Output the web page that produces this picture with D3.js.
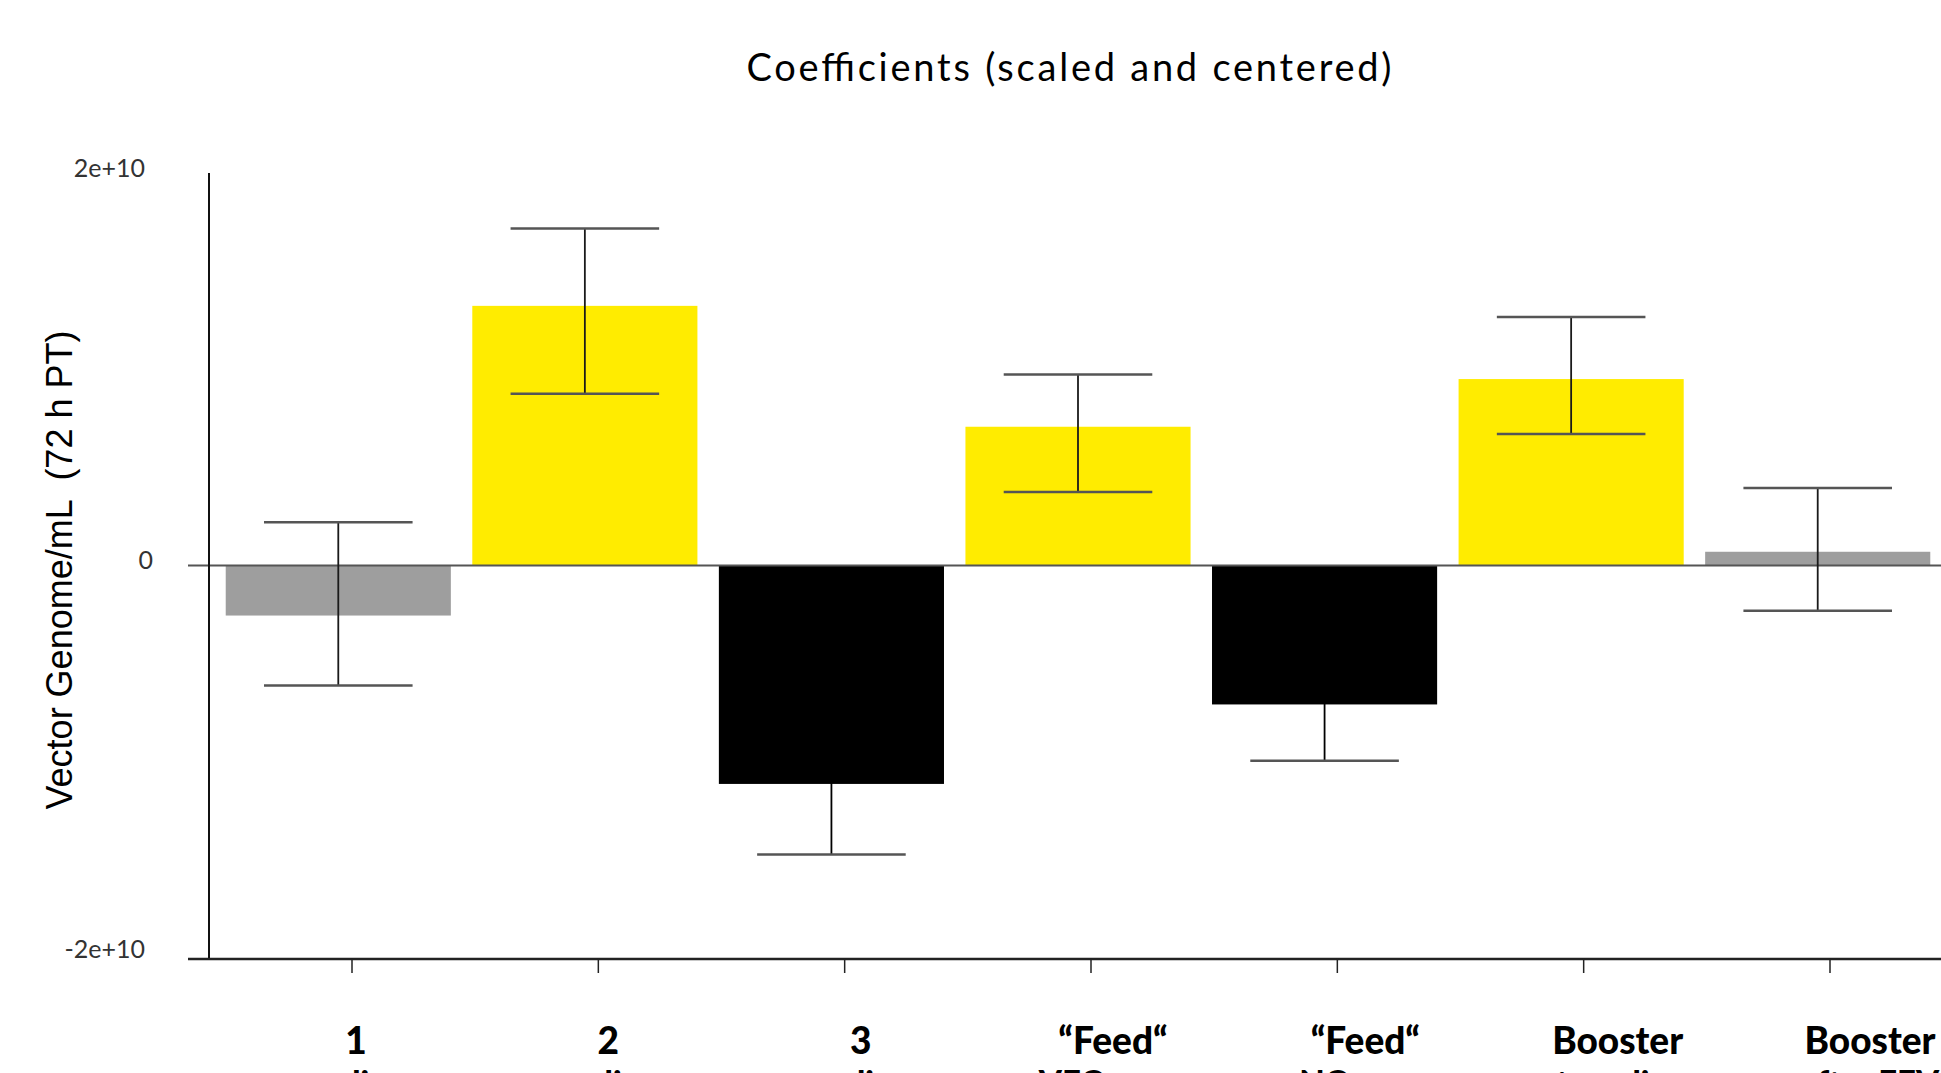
<!DOCTYPE html>
<html>
<head>
<meta charset="utf-8">
<script src="https://cdn.jsdelivr.net/npm/d3@7"></script>
<style>
  html, body { margin: 0; padding: 0; background: #ffffff; overflow: hidden; }
  svg { display: block; }
</style>
</head>
<body>
<svg id="chart" width="1941" height="1073"></svg>
<script>
// Model factors (two-line labels) and their scaled & centered coefficients
const factorNames = ["1", "2", "3", "\u201CFeed\u201C", "\u201CFeed\u201C", "Booster", "Booster"];
const factorDetails = ["medium", "medium", "medium", "VFC conc.", "NC conc.", "at medium", "after EEV"];
const coefficients = [-2.55e9, 13.23e9, -11.13e9, 7.07e9, -7.08e9, 9.50e9, 0.70e9];
const ciLower = [-6.12e9, 8.75e9, -14.73e9, 3.75e9, -9.95e9, 6.70e9, -2.30e9];
const ciUpper = [2.20e9, 17.17e9, -7.53e9, 9.73e9, -4.21e9, 12.66e9, 3.95e9];
const effect = ["ns", "up", "down", "up", "down", "up", "ns"];
const yTickValues = [-2e10, 0, 2e10];

const W = 1941, H = 1073;
const effectColor = { ns: "#9e9e9e", up: "#ffec00", down: "#000000" };

const svg = d3.select("#chart");
const idx = factorNames.map((_, i) => i);

const x = d3.scaleBand().domain(idx).range([215, W]).paddingInner(0.087).paddingOuter(0.0435);
const y = d3.scaleLinear().domain([-2e10, 2e10]).range([958, 173]);
const labelX = d3.scalePoint().domain(idx).range([356, 1870]);
const tickX = d3.scalePoint().domain(idx).range([352, 1830]);
const axisX = 209, lineStart = 188;

const sci = d3.formatLocale({ decimal: ".", thousands: ",", grouping: [3], currency: ["", ""], minus: "-" }).format(".0e");
const tickFmt = v => v === 0 ? "0" : sci(v);

// Title
svg.append("text")
  .attr("x", 1069).attr("y", 81)
  .attr("text-anchor", "middle")
  .attr("font-family", "Lato, sans-serif")
  .attr("font-size", 38)
  .attr("textLength", 645).attr("lengthAdjust", "spacing")
  .attr("fill", "#000")
  .text("Coefficients (scaled and centered)");

// Y axis title
svg.append("text")
  .attr("transform", "translate(72,570) rotate(-90)")
  .attr("text-anchor", "middle")
  .attr("font-family", "'Liberation Sans', Arial, sans-serif")
  .attr("font-size", 36)
  .attr("fill", "#000")
  .attr("xml:space", "preserve")
  .text("Vector Genome/mL  (72 h PT)");

// Bars
svg.append("g").selectAll("rect")
  .data(idx)
  .join("rect")
  .attr("x", i => x(i))
  .attr("width", x.bandwidth())
  .attr("y", i => y(Math.max(0, coefficients[i])))
  .attr("height", i => Math.abs(y(coefficients[i]) - y(0)))
  .attr("fill", i => effectColor[effect[i]]);

// Zero line and bottom line
svg.append("line")
  .attr("x1", lineStart).attr("x2", W)
  .attr("y1", y(0)).attr("y2", y(0))
  .attr("stroke", "#555").attr("stroke-width", 2);
svg.append("line")
  .attr("x1", lineStart).attr("x2", W)
  .attr("y1", y(-2e10) + 1).attr("y2", y(-2e10) + 1)
  .attr("stroke", "#222").attr("stroke-width", 2.5);

// Error bars
const capW = x.bandwidth() * 0.66;
const eb = svg.append("g").selectAll("g").data(idx).join("g")
  .attr("transform", i => `translate(${x(i) + x.bandwidth() / 2},0)`);
eb.append("line")
  .attr("y1", i => y(ciLower[i])).attr("y2", i => y(ciUpper[i]))
  .attr("stroke", i => effect[i] === "down" ? "#000" : "#1a1a1a").attr("stroke-width", 1.8);
eb.append("line")
  .attr("x1", -capW / 2).attr("x2", capW / 2)
  .attr("y1", i => y(ciUpper[i])).attr("y2", i => y(ciUpper[i]))
  .attr("stroke", i => effect[i] === "down" ? "#000" : "#555").attr("stroke-width", 2.5);
eb.append("line")
  .attr("x1", -capW / 2).attr("x2", capW / 2)
  .attr("y1", i => y(ciLower[i])).attr("y2", i => y(ciLower[i]))
  .attr("stroke", "#555").attr("stroke-width", 2.5);

// Y axis line and labels
svg.append("line")
  .attr("x1", axisX).attr("x2", axisX)
  .attr("y1", y(2e10)).attr("y2", y(-2e10))
  .attr("stroke", "#111").attr("stroke-width", 2);
svg.append("g").selectAll("text")
  .data(yTickValues)
  .join("text")
  .attr("x", v => v === 0 ? 153 : 145)
  .attr("y", v => y(v) - (v < 0 ? 9 : 5))
  .attr("dy", "0.35em")
  .attr("text-anchor", "end")
  .attr("font-family", "Lato, sans-serif")
  .attr("font-size", 25)
  .attr("fill", "#333")
  .text(tickFmt);

// X ticks
svg.append("g").selectAll("line")
  .data(idx)
  .join("line")
  .attr("x1", i => tickX(i))
  .attr("x2", i => tickX(i))
  .attr("y1", y(-2e10)).attr("y2", y(-2e10) + 15)
  .attr("stroke", "#222").attr("stroke-width", 1.5);

// Category labels
const lab = svg.append("g").selectAll("text")
  .data(idx)
  .join("text")
  .attr("text-anchor", "middle")
  .attr("font-family", "Lato, sans-serif")
  .attr("font-weight", 900)
  .attr("fill", "#000");
lab.append("tspan")
  .attr("x", i => labelX(i)).attr("y", 1054)
  .attr("font-size", 37)
  .text(i => factorNames[i]);
lab.append("tspan")
  .attr("x", i => labelX(i)).attr("y", 1094)
  .attr("font-size", 33)
  .text(i => factorDetails[i]);
</script>
</body>
</html>
